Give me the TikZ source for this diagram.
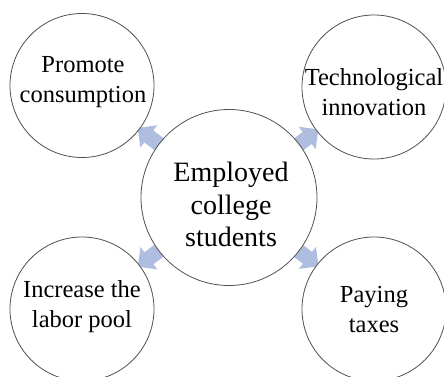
\documentclass[tikz,border=0pt]{standalone}
\usepackage{fontspec}
\setmainfont{Liberation Serif}
\usetikzlibrary{backgrounds,calc}
\definecolor{arrowblue}{HTML}{AEBDE0}
\definecolor{ringgray}{HTML}{505050}
\begin{document}
\begin{tikzpicture}[x=1pt,y=-1pt,
  bubble/.style={circle, draw=ringgray, line width=0.8pt, fill=white, inner sep=0pt, outer sep=0pt, minimum size=144pt},
  hub/.style={bubble, minimum size=176pt},
  pics/blockarrow/.style={code={\fill[arrowblue] (0,0) -- (-14,14) -- (-14,7.5) -- (-34,7.5) -- (-34,-7.5) -- (-14,-7.5) -- (-14,-14) -- cycle;}},
  outertext/.style={anchor=base, inner sep=0pt, font=\fontsize{24.5}{30}\selectfont},
  hubtext/.style={anchor=base, inner sep=0pt, font=\fontsize{28}{32.5}\selectfont}]
\useasboundingbox (0,0) rectangle (444,376);
% circles
\node[hub] (hub) at (229,197.5) {};
\node[bubble] (tl) at (82,85.5) {};
\node[bubble] (tr) at (374,87) {};
\node[bubble] (bl) at (82,309) {};
\node[bubble] (br) at (374,309) {};
% texts
\node[hubtext] (hubt) at (231,181.7) {\begin{tabular}[t]{@{}c@{}}Employed\\college\\students\end{tabular}};
\node[outertext] (tlt) at (83,72.4) {\begin{tabular}[t]{@{}c@{}}Promote\\consumption\end{tabular}};
\node[outertext] (trt) at (374,85) {\begin{tabular}[t]{@{}c@{}}Technological\\innovation\end{tabular}};
\node[outertext] (blt) at (82,297.2) {\begin{tabular}[t]{@{}c@{}}Increase the\\labor pool\end{tabular}};
\node[outertext] (brt) at (374,302.5) {\begin{tabular}[t]{@{}c@{}}Paying\\taxes\end{tabular}};
% arrows (tips at the outer circles)
\coordinate (t1) at ($(tl)!70pt!(hub)$);
\coordinate (t2) at ($(tr)!70pt!(hub)$);
\coordinate (t3) at ($(bl)!70pt!(hub)$);
\coordinate (t4) at ($(br)!70pt!(hub)$);
\begin{scope}[on background layer]
\pic[rotate=142.7] at (t1) {blockarrow};
\pic[rotate=37.3] at (t2) {blockarrow};
\pic[rotate=217.2] at (t3) {blockarrow};
\pic[rotate=-37.6] at (t4) {blockarrow};
\end{scope}
\end{tikzpicture}
\end{document}
